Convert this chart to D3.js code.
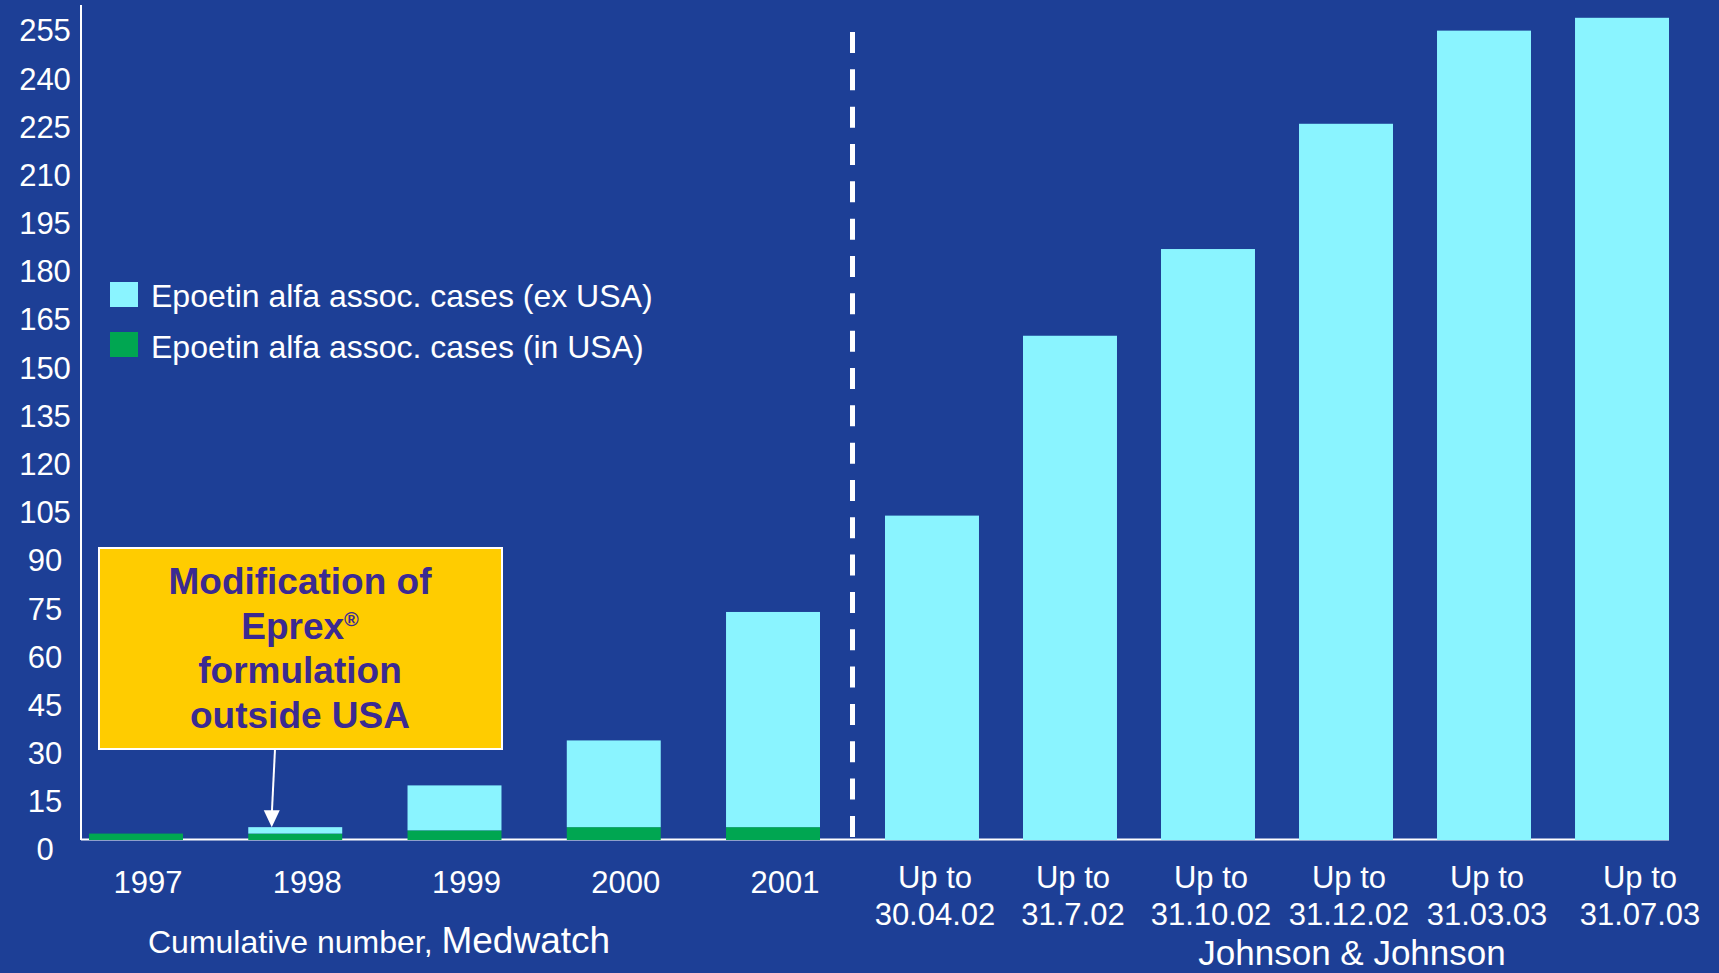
<!DOCTYPE html>
<html>
<head>
<meta charset="utf-8">
<title>Epoetin alfa associated cases</title>
<script src="https://d3js.org/d3.v7.min.js"></script>
<style>
  body { margin: 0; background: #1d3f96; overflow: hidden; }
  text { font-family: "Liberation Sans", Arial, sans-serif; fill: #fff; }
</style>
</head>
<body>
<script>
// Medwatch, cumulative number per year
const medYears = ['1997', '1998', '1999', '2000', '2001'];
const medInUSA = [2, 2, 3, 4, 4];
const medExUSA = [0, 2, 14, 27, 67];

// Johnson & Johnson, cumulative (ex USA)
const jjDates = ['30.04.02', '31.7.02', '31.10.02', '31.12.02', '31.03.03', '31.07.03'];
const jjExUSA = [101, 157, 184, 223, 252, 256];

const yTicks = [0, 15, 30, 45, 60, 75, 90, 105, 120, 135, 150, 165, 180, 195, 210, 225, 240, 255];

const width = 1719, height = 973;
const cyan = '#8af4ff', green = '#00a651', yellow = '#ffcc00', purple = '#3b2a92';

const svg = d3.select('body').append('svg')
    .attr('width', width).attr('height', height);

svg.append('rect').attr('width', width).attr('height', height).attr('fill', '#1d3f96');

// шкалы
const y = d3.scaleLinear().domain([0, 255]).range([840, 21]);
const xL = d3.scaleBand().domain(medYears).range([89, 820]).paddingInner(0.41).paddingOuter(0);
const xR = d3.scaleBand().domain(jjDates).range([885, 1669]).paddingInner(0.319).paddingOuter(0);

// ось y: подписи чуть ниже делений, как в оригинале
const yAxis = svg.append('g')
    .attr('transform', 'translate(45,10)')
    .call(d3.axisLeft(y).tickValues(yTicks).tickSize(0).tickPadding(0));
yAxis.select('.domain').remove();
yAxis.selectAll('text')
    .attr('x', 0)
    .attr('text-anchor', 'middle')
    .style('font-size', '31px')
    .style('font-family', '"Liberation Sans", Arial, sans-serif')
    .attr('fill', '#fff');

// линии осей
svg.append('line')
    .attr('x1', 81).attr('x2', 81).attr('y1', 5).attr('y2', y(0))
    .attr('stroke', '#fff').attr('stroke-width', 2);
svg.append('line')
    .attr('x1', 81).attr('x2', xR.range()[1]).attr('y1', y(0) - 0.5).attr('y2', y(0) - 0.5)
    .attr('stroke', '#fff').attr('stroke-width', 2);

// Medwatch: стек (in USA снизу, ex USA сверху)
const medRows = medYears.map((d, i) => ({ year: d, inUSA: medInUSA[i], exUSA: medExUSA[i] }));
const stack = d3.stack().keys(['inUSA', 'exUSA'])(medRows);
const stackColors = { inUSA: green, exUSA: cyan };

svg.append('g').selectAll('g')
    .data(stack)
    .join('g')
    .attr('fill', s => stackColors[s.key])
    .selectAll('rect')
    .data(s => s)
    .join('rect')
    .attr('x', d => xL(d.data.year))
    .attr('width', xL.bandwidth())
    .attr('y', d => y(d[1]))
    .attr('height', d => y(d[0]) - y(d[1]));

// Johnson & Johnson
svg.append('g').selectAll('rect')
    .data(jjDates.map((d, i) => ({ date: d, v: jjExUSA[i] })))
    .join('rect')
    .attr('fill', cyan)
    .attr('x', d => xR(d.date))
    .attr('width', xR.bandwidth())
    .attr('y', d => y(d.v))
    .attr('height', d => y(0) - y(d.v));

// разделитель
const sepX = (xL.range()[1] + xR.range()[0]) / 2;
svg.append('line')
    .attr('x1', sepX).attr('x2', sepX).attr('y1', 32).attr('y2', y(0) - 2)
    .attr('stroke', '#fff').attr('stroke-width', 5)
    .attr('stroke-dasharray', '21,16.33');

// подписи x
svg.append('g').selectAll('text')
    .data(medYears)
    .join('text')
    .attr('x', d => xL(d) + xL.bandwidth() / 2 + 12)
    .attr('y', 893)
    .attr('text-anchor', 'middle')
    .style('font-size', '31px')
    .text(d => d);

// последняя подпись в оригинале сдвинута вправо
const labelX = (d, i) => xR(d) + xR.bandwidth() / 2 + (i === jjDates.length - 1 ? 18 : 3);
const jjLabels = svg.append('g').selectAll('text')
    .data(jjDates)
    .join('text')
    .attr('x', labelX)
    .attr('y', 888)
    .attr('text-anchor', 'middle')
    .style('font-size', '31px');
jjLabels.append('tspan').text('Up to');
jjLabels.append('tspan')
    .attr('x', labelX)
    .attr('dy', 37)
    .text(d => d);

// подписи групп
const med = svg.append('text')
    .attr('x', 148).attr('y', 953)
    .style('font-size', '32px');
med.append('tspan').text('Cumulative number, ');
med.append('tspan').style('font-size', '37px').text('Medwatch');

svg.append('text')
    .attr('x', 1352).attr('y', 965)
    .attr('text-anchor', 'middle')
    .style('font-size', '35px')
    .text('Johnson & Johnson');

// легенда
const legend = svg.append('g');
const legendItems = [
    { label: 'Epoetin alfa assoc. cases (ex USA)', color: cyan },
    { label: 'Epoetin alfa assoc. cases (in USA)', color: green }
];
legendItems.forEach((d, i) => {
    legend.append('rect')
        .attr('x', 110).attr('y', 282 + i * 50)
        .attr('width', 28).attr('height', 25)
        .attr('fill', d.color);
    legend.append('text')
        .attr('x', 151).attr('y', 307 + i * 51)
        .style('font-size', '32px')
        .text(d.label);
});

// аннотация
const note = svg.append('g');
note.append('rect')
    .attr('x', 99).attr('y', 548)
    .attr('width', 403).attr('height', 201)
    .attr('fill', yellow)
    .attr('stroke', '#fff').attr('stroke-width', 2);

const noteLines = ['Modification of', 'Eprex', 'formulation', 'outside USA'];
noteLines.forEach((line, i) => {
    const t = note.append('text')
        .attr('x', 300).attr('y', 594 + i * 44.7)
        .attr('text-anchor', 'middle')
        .style('font-size', '37px')
        .style('font-weight', 'bold')
        .style('fill', purple);
    t.append('tspan').text(line);
    if (line === 'Eprex') {
        t.append('tspan').attr('dy', -13).style('font-size', '20px').text('®');
    }
});

// стрелка к 1998
const tipX = xL('1998') + xL.bandwidth() * 0.25;
const tipY = y(medInUSA[1] + medExUSA[1]);
note.append('line')
    .attr('x1', 275).attr('y1', 749)
    .attr('x2', tipX).attr('y2', tipY - 12)
    .attr('stroke', '#fff').attr('stroke-width', 2);
note.append('path')
    .attr('d', `M${tipX},${tipY} L${tipX - 8},${tipY - 17} L${tipX + 8},${tipY - 17} Z`)
    .attr('fill', '#fff');
</script>
</body>
</html>
